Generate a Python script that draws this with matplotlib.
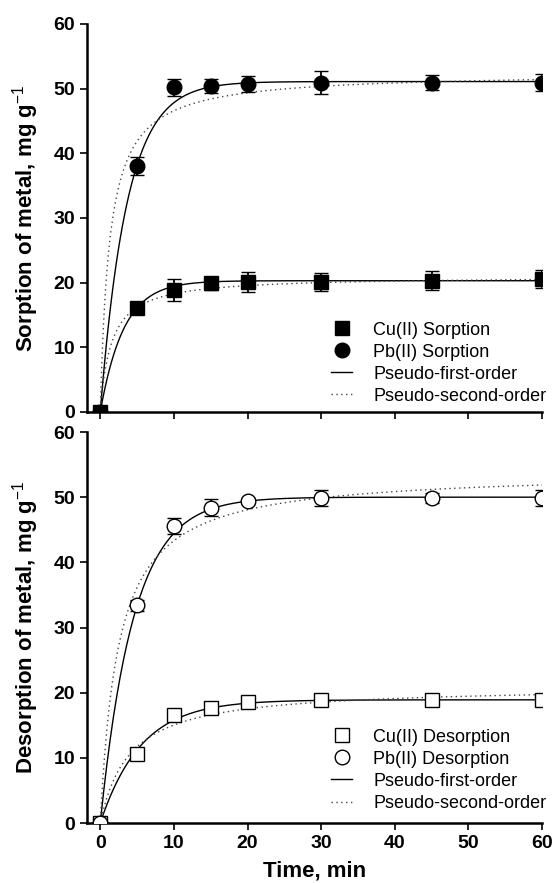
import matplotlib
matplotlib.use("Agg")
import matplotlib.pyplot as plt
import numpy as np

plt.rcParams['font.family'] = ['Liberation Sans', 'DejaVu Sans']
plt.rcParams['mathtext.fontset'] = 'custom'
plt.rcParams['mathtext.rm'] = 'Liberation Sans'
plt.rcParams['mathtext.bf'] = 'Liberation Sans:bold'

# sampling times, min
time_min = [0, 5, 10, 15, 20, 30, 45, 60]

# sorption (mg/g) with error bars
cu_sorp = [0, 16.1, 18.8, 19.9, 20.1, 20.1, 20.3, 20.5]
cu_sorp_err = [0, 0.6, 1.7, 1.0, 1.6, 1.4, 1.5, 1.4]
pb_sorp = [0, 38.0, 50.2, 50.4, 50.7, 50.9, 50.9, 50.9]
pb_sorp_err = [0, 1.4, 1.3, 1.1, 1.25, 1.8, 1.15, 1.3]

# desorption (mg/g) with error bars
cu_desorp = [0, 10.6, 16.6, 17.6, 18.5, 18.8, 18.8, 18.8]
cu_desorp_err = [0, 0.3, 0.4, 0.4, 0.3, 0.3, 0.3, 0.3]
pb_desorp = [0, 33.4, 45.6, 48.4, 49.4, 49.9, 49.9, 49.9]
pb_desorp_err = [0, 0.8, 1.2, 1.3, 0.5, 1.2, 0.8, 1.2]

# fitted kinetic parameters (qe, k)
pfo_cu_sorp = (20.3, 0.315)
pfo_pb_sorp = (51.1, 0.275)
pso_cu_sorp = (21.0, 0.032)
pso_pb_sorp = (52.5, 0.015)
pfo_cu_desorp = (18.9, 0.18)
pfo_pb_desorp = (50.0, 0.22)
pso_cu_desorp = (21.0, 0.012)
pso_pb_desorp = (54.0, 0.0075)


def pfo(t, qe, k):
    return qe * (1 - np.exp(-k * t))


def pso(t, qe, k):
    return qe ** 2 * k * t / (1 + qe * k * t)


t_fit = np.linspace(0, 60, 400)

W, H = 552, 883
fig = plt.figure(figsize=(W / 100, H / 100), dpi=100)
left, right = 87 / W, 542 / W
ax1 = fig.add_axes([left, 1 - 412 / H, right - left, (412 - 24) / H])
ax2 = fig.add_axes([left, 1 - 823 / H, right - left, (823 - 432) / H])


def draw_panel(ax, cu, cu_err, pb, pb_err, pfo_cu, pfo_pb, pso_cu, pso_pb, filled, names, leg_y):
    ax.plot(t_fit, pfo(t_fit, *pfo_cu), color='black', lw=1.0, zorder=2)
    ax.plot(t_fit, pfo(t_fit, *pfo_pb), color='black', lw=1.0, zorder=2)
    ax.plot(t_fit, pso(t_fit, *pso_cu), color='#444444', lw=1.0, ls=(0, (1, 2.5)), zorder=2)
    ax.plot(t_fit, pso(t_fit, *pso_pb), color='#444444', lw=1.0, ls=(0, (1, 2.5)), zorder=2)
    fc = 'black' if filled else 'white'
    ax.errorbar(time_min, cu, yerr=cu_err, fmt='s', ms=9.5, mfc=fc, mec='black', mew=1.0,
                ecolor='black', elinewidth=1.3, capsize=5, capthick=1.3, zorder=3)
    ax.errorbar(time_min, pb, yerr=pb_err, fmt='o', ms=10.5, mfc=fc, mec='black', mew=1.0,
                ecolor='black', elinewidth=1.3, capsize=5, capthick=1.3, zorder=4)

    handles = [
        plt.Line2D([], [], ls='none', marker='s', ms=9.5, mfc=fc, mec='black'),
        plt.Line2D([], [], ls='none', marker='o', ms=10.5, mfc=fc, mec='black'),
        plt.Line2D([], [], color='black', lw=1.0),
        plt.Line2D([], [], color='#444444', lw=1.0, ls=(0, (1, 2.5))),
    ]
    ax.legend(handles, names + ['Pseudo-first-order', 'Pseudo-second-order'],
              loc='lower left', bbox_to_anchor=(0.52, leg_y), frameon=False,
              fontsize=13, handlelength=1.2, handletextpad=1.15, labelspacing=0.28,
              borderaxespad=0.0)

    ax.set_xlim(-1.8, 60)
    ax.set_ylim(0, 60)
    ax.set_xticks([0, 10, 20, 30, 40, 50, 60])
    ax.set_yticks([0, 10, 20, 30, 40, 50, 60])
    for s in ['top', 'right']:
        ax.spines[s].set_visible(False)
    for s in ['left', 'bottom']:
        ax.spines[s].set_linewidth(1.8)
    ax.tick_params(direction='out', length=5, width=1.2, labelsize=14)
    for lab in ax.get_xticklabels() + ax.get_yticklabels():
        lab.set_fontweight('bold')
    ax.yaxis.set_label_coords(-0.1, 0.5)


draw_panel(ax1, cu_sorp, cu_sorp_err, pb_sorp, pb_sorp_err,
           pfo_cu_sorp, pfo_pb_sorp, pso_cu_sorp, pso_pb_sorp, True,
           ['Cu(II) Sorption', 'Pb(II) Sorption'], 0.0)
draw_panel(ax2, cu_desorp, cu_desorp_err, pb_desorp, pb_desorp_err,
           pfo_cu_desorp, pfo_pb_desorp, pso_cu_desorp, pso_pb_desorp, False,
           ['Cu(II) Desorption', 'Pb(II) Desorption'], 0.01)

ax1.tick_params(axis='x', labelbottom=False)
ax1.set_ylabel('Sorption of metal, mg g$^{-1}$', fontsize=16, fontweight='bold')
ax2.set_ylabel('Desorption of metal, mg g$^{-1}$', fontsize=16, fontweight='bold')
ax2.set_xlabel('Time, min', fontsize=16, fontweight='bold', labelpad=6)

fig.savefig('out.png', dpi=100)
